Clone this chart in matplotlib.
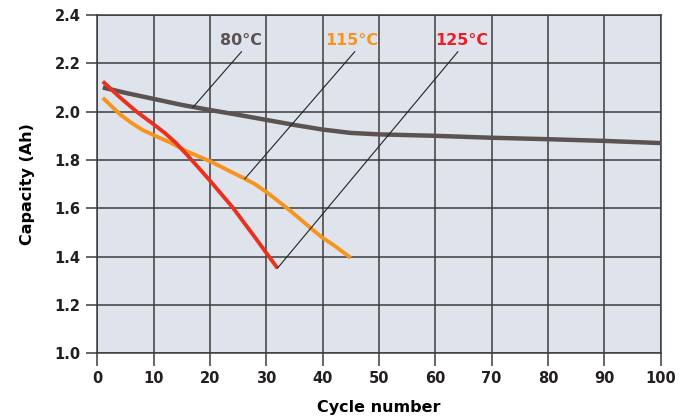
import matplotlib
matplotlib.use("Agg")
import matplotlib.pyplot as plt

# Data
c80_x = [1, 5, 10, 15, 20, 25, 30, 35, 40, 45, 50, 60, 70, 80, 90, 100]
c80_y = [2.10, 2.078, 2.053, 2.028, 2.007, 1.987, 1.966, 1.945, 1.926, 1.912, 1.906, 1.900, 1.892, 1.886, 1.879, 1.870]

c115_x = [1, 2, 4, 6, 8, 10, 13, 16, 18, 20, 22, 24, 26, 28, 30, 32, 34, 36, 38, 40, 42, 45]
c115_y = [2.057, 2.035, 1.99, 1.955, 1.925, 1.903, 1.872, 1.835, 1.815, 1.795, 1.772, 1.748, 1.725, 1.70, 1.668, 1.632, 1.595, 1.556, 1.516, 1.478, 1.447, 1.395]

c125_x = [1, 4, 7, 10, 12, 14, 16, 18, 20, 24, 28, 32]
c125_y = [2.125, 2.06, 2.0, 1.948, 1.912, 1.87, 1.82, 1.768, 1.715, 1.605, 1.48, 1.352]

labels = ["80°C", "115°C", "125°C"]
label_x = [25.5, 45.1, 64.7]
label_y = [2.294, 2.294, 2.294]
arrow_start = [(25.6, 2.248), (45.7, 2.248), (64.0, 2.248)]
arrow_end = [(17.0, 2.018), (26.2, 1.722), (32.0, 1.352)]

colors = ["#5b5251", "#f7941d", "#e8321e"]
label_colors = ["#5b5251", "#f7941d", "#ed1c24"]

fig = plt.figure(figsize=(6.94, 4.18), dpi=100)
ax = fig.add_axes([0.140, 0.155, 0.812, 0.809])
ax.set_facecolor("#dfe4ec")

ax.plot(c80_x, c80_y, color=colors[0], lw=3.2, solid_capstyle="butt", solid_joinstyle="round", zorder=3)
ax.plot(c115_x, c115_y, color=colors[1], lw=2.8, solid_capstyle="butt", solid_joinstyle="round", zorder=4)
ax.plot(c125_x, c125_y, color=colors[2], lw=2.8, solid_capstyle="butt", solid_joinstyle="round", zorder=5)

for lab, lx, ly, s, e, col in zip(labels, label_x, label_y, arrow_start, arrow_end, label_colors):
    ax.text(lx, ly, lab, color=col, fontsize=11.5, fontweight="bold",
            ha="center", va="center", zorder=6)
    ax.plot([s[0], e[0]], [s[1], e[1]], color="#222222", lw=0.8, zorder=6)

ax.set_xlim(0, 100)
ax.set_ylim(1.0, 2.4)
ax.set_xticks(range(0, 101, 10))
ax.set_yticks([1.0, 1.2, 1.4, 1.6, 1.8, 2.0, 2.2, 2.4])
ax.set_yticklabels([f"{v:.1f}" for v in [1.0, 1.2, 1.4, 1.6, 1.8, 2.0, 2.2, 2.4]])
ax.grid(True, color="#3c3c3c", lw=1.1, zorder=1)
ax.set_axisbelow(True)
for sp in ax.spines.values():
    sp.set_color("#3c3c3c")
    sp.set_linewidth(1.1)

ax.tick_params(axis="both", colors="#3c3c3c", labelcolor="#231f20", labelsize=10.5, width=1.1)
ax.tick_params(axis="x", length=9, pad=4)
ax.tick_params(axis="y", length=8, pad=4)
for t in ax.get_xticklabels() + ax.get_yticklabels():
    t.set_fontweight("semibold")

ax.set_xlabel("Cycle number", fontsize=11.5, fontweight="bold", color="#000000", labelpad=10)
ax.set_ylabel("Capacity (Ah)", fontsize=11.5, fontweight="bold", color="#000000", labelpad=14)

fig.savefig("out.png", dpi=100)
